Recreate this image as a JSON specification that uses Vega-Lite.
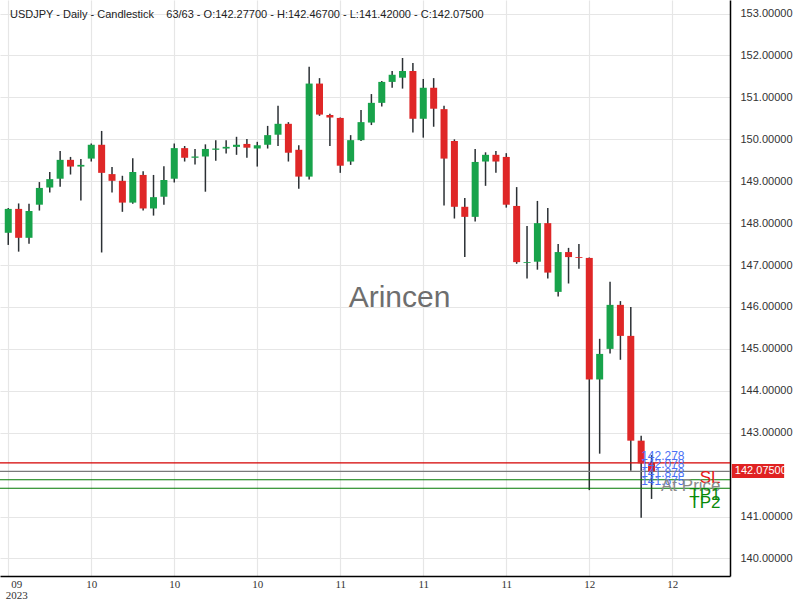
{
  "$schema": "https://vega.github.io/schema/vega-lite/v6.json",
  "width": 730,
  "height": 576,
  "autosize": {"type": "none"},
  "padding": {"left": 0, "top": 0, "right": 70, "bottom": 24},
  "background": "white",
  "config": {"view": {"stroke": null}, "font": "Liberation Sans"},
  "title": {
    "text": "USDJPY - Daily - Candlestick\u00a0\u00a0\u00a0 63/63 - O:142.27700 - H:142.46700 - L:141.42000 - C:142.07500",
    "anchor": "start",
    "frame": "group",
    "orient": "top",
    "baseline": "middle",
    "offset": -26,
    "dx": 10,
    "fontSize": 11,
    "fontWeight": "normal",
    "color": "#222222",
    "font": "Liberation Sans"
  },
  "data": {
    "values": [
      {"i": 0, "o": 147.77, "h": 148.36, "l": 147.48, "c": 148.34},
      {"i": 1, "o": 148.34, "h": 148.47, "l": 147.32, "c": 147.65},
      {"i": 2, "o": 147.65, "h": 148.46, "l": 147.51, "c": 148.29},
      {"i": 3, "o": 148.44, "h": 148.98, "l": 148.30, "c": 148.84},
      {"i": 4, "o": 148.85, "h": 149.22, "l": 148.73, "c": 149.05},
      {"i": 5, "o": 149.06, "h": 149.72, "l": 148.87, "c": 149.51},
      {"i": 6, "o": 149.51, "h": 149.58, "l": 149.16, "c": 149.35},
      {"i": 7, "o": 149.35, "h": 149.53, "l": 148.54, "c": 149.39},
      {"i": 8, "o": 149.54, "h": 149.90, "l": 149.47, "c": 149.87},
      {"i": 9, "o": 149.87, "h": 150.20, "l": 147.30, "c": 149.20},
      {"i": 10, "o": 149.17, "h": 149.34, "l": 148.73, "c": 149.01},
      {"i": 11, "o": 149.01, "h": 149.13, "l": 148.27, "c": 148.49},
      {"i": 12, "o": 148.49, "h": 149.55, "l": 148.46, "c": 149.22},
      {"i": 13, "o": 149.15, "h": 149.24, "l": 148.30, "c": 148.35},
      {"i": 14, "o": 148.35, "h": 149.15, "l": 148.18, "c": 148.62},
      {"i": 15, "o": 148.63, "h": 149.36, "l": 148.44, "c": 149.03},
      {"i": 16, "o": 149.06, "h": 149.90, "l": 148.97, "c": 149.79},
      {"i": 17, "o": 149.79, "h": 149.84, "l": 149.47, "c": 149.56},
      {"i": 18, "o": 149.56, "h": 149.77, "l": 149.40, "c": 149.59},
      {"i": 19, "o": 149.59, "h": 149.88, "l": 148.75, "c": 149.77},
      {"i": 20, "o": 149.75, "h": 149.98, "l": 149.49, "c": 149.78},
      {"i": 21, "o": 149.78, "h": 149.98, "l": 149.66, "c": 149.82},
      {"i": 22, "o": 149.82, "h": 150.06, "l": 149.63, "c": 149.87},
      {"i": 23, "o": 149.89, "h": 150.01, "l": 149.56, "c": 149.80},
      {"i": 24, "o": 149.78, "h": 149.94, "l": 149.35, "c": 149.86},
      {"i": 25, "o": 149.87, "h": 150.32, "l": 149.78, "c": 150.10},
      {"i": 26, "o": 150.11, "h": 150.80, "l": 149.84, "c": 150.37},
      {"i": 27, "o": 150.37, "h": 150.41, "l": 149.47, "c": 149.68},
      {"i": 28, "o": 149.75, "h": 149.86, "l": 148.82, "c": 149.11},
      {"i": 29, "o": 149.11, "h": 151.73, "l": 149.04, "c": 151.33},
      {"i": 30, "o": 151.33, "h": 151.46, "l": 150.56, "c": 150.59},
      {"i": 31, "o": 150.58, "h": 150.61, "l": 149.84, "c": 150.52},
      {"i": 32, "o": 150.51, "h": 150.52, "l": 149.20, "c": 149.37},
      {"i": 33, "o": 149.47, "h": 150.10, "l": 149.39, "c": 149.98},
      {"i": 34, "o": 149.98, "h": 150.70, "l": 149.96, "c": 150.41},
      {"i": 35, "o": 150.40, "h": 151.08, "l": 150.34, "c": 150.87},
      {"i": 36, "o": 150.87, "h": 151.39, "l": 150.78, "c": 151.37},
      {"i": 37, "o": 151.37, "h": 151.63, "l": 151.23, "c": 151.54},
      {"i": 38, "o": 151.47, "h": 151.94, "l": 151.21, "c": 151.63},
      {"i": 39, "o": 151.63, "h": 151.82, "l": 150.16, "c": 150.49},
      {"i": 40, "o": 150.49, "h": 151.44, "l": 150.04, "c": 151.23},
      {"i": 41, "o": 151.23, "h": 151.46, "l": 150.30, "c": 150.73},
      {"i": 42, "o": 150.72, "h": 150.80, "l": 148.42, "c": 149.54},
      {"i": 43, "o": 149.96, "h": 150.00, "l": 148.11, "c": 148.39},
      {"i": 44, "o": 148.39, "h": 148.60, "l": 147.19, "c": 148.15},
      {"i": 45, "o": 148.15, "h": 149.77, "l": 148.04, "c": 149.46},
      {"i": 46, "o": 149.47, "h": 149.69, "l": 148.89, "c": 149.63},
      {"i": 47, "o": 149.63, "h": 149.72, "l": 149.20, "c": 149.47},
      {"i": 48, "o": 149.58, "h": 149.67, "l": 148.37, "c": 148.44},
      {"i": 49, "o": 148.41, "h": 148.86, "l": 147.03, "c": 147.07},
      {"i": 50, "o": 147.05, "h": 147.93, "l": 146.68, "c": 147.07},
      {"i": 51, "o": 147.08, "h": 148.53, "l": 146.89, "c": 148.00},
      {"i": 52, "o": 148.00, "h": 148.36, "l": 146.68, "c": 146.82},
      {"i": 53, "o": 146.36, "h": 147.50, "l": 146.25, "c": 147.31},
      {"i": 54, "o": 147.31, "h": 147.41, "l": 146.56, "c": 147.19},
      {"i": 55, "o": 147.19, "h": 147.50, "l": 146.91, "c": 147.17},
      {"i": 56, "o": 147.17, "h": 147.18, "l": 141.63, "c": 144.27},
      {"i": 57, "o": 144.27, "h": 145.24, "l": 142.50, "c": 144.88},
      {"i": 58, "o": 145.00, "h": 146.60, "l": 144.89, "c": 146.05},
      {"i": 59, "o": 146.05, "h": 146.14, "l": 144.74, "c": 145.31},
      {"i": 60, "o": 145.31, "h": 146.00, "l": 142.09, "c": 142.81},
      {"i": 61, "o": 142.81, "h": 142.93, "l": 140.97, "c": 142.27},
      {"i": 62, "o": 142.277, "h": 142.467, "l": 141.42, "c": 142.075}
    ]
  },
  "layer": [
    {
      "mark": {"type": "rule", "color": "#2b3034", "strokeWidth": 1.5},
      "encoding": {
        "x": {
          "field": "i", "type": "quantitative", "title": null,
          "scale": {"domain": [-0.314, 69.08], "nice": false, "zero": false},
          "axis": {
            "orient": "bottom",
            "values": [0, 8, 16, 24, 32, 40, 48, 56, 64],
            "labelExpr": "datum.value == 0 ? ['09', '2023'] : datum.value < 32 ? '10' : datum.value < 56 ? '11' : '12'",
            "labelOffset": {"condition": {"test": "datum.value == 0", "value": 8}, "value": 0},
            "ticks": false,
            "domainColor": "#000000",
            "domainWidth": 1.5,
            "grid": true,
            "gridColor": "#e6e6e6",
            "gridWidth": 1.2,
            "labelFont": "Liberation Sans Narrow",
            "labelFontSize": 11,
            "labelColor": "#333333",
            "labelPadding": 2,
            "labelLineHeight": 11,
            "labelFlush": false,
            "labelOverlap": false
          }
        },
        "y": {
          "field": "l", "type": "quantitative", "title": null,
          "scale": {"domain": [139.581, 153.324], "nice": false, "zero": false},
          "axis": {
            "orient": "right",
            "values": [140, 141, 143, 144, 145, 146, 147, 148, 149, 150, 151, 152, 153],
            "format": ".5f",
            "ticks": false,
            "domainColor": "#000000",
            "domainWidth": 1.5,
            "grid": true,
            "gridColor": "#e6e6e6",
            "gridWidth": 1.2,
            "labelFont": "Liberation Sans",
            "labelFontSize": 11,
            "labelColor": "#333333",
            "labelPadding": 10,
            "labelOverlap": false
          }
        },
        "y2": {"field": "h"}
      }
    },
    {
      "data": {"values": [{}]},
      "mark": {"type": "rule", "color": "#d40000", "strokeWidth": 1.2},
      "encoding": {"y": {"datum": 142.278, "type": "quantitative", "title": null}}
    },
    {
      "data": {"values": [{}]},
      "mark": {"type": "rule", "color": "#7a7a7a", "strokeWidth": 1.2},
      "encoding": {"y": {"datum": 142.075, "type": "quantitative", "title": null}}
    },
    {
      "data": {"values": [{}]},
      "mark": {"type": "rule", "color": "#007a00", "strokeWidth": 1.2},
      "encoding": {"y": {"datum": 141.878, "type": "quantitative", "title": null}}
    },
    {
      "data": {"values": [{}]},
      "mark": {"type": "rule", "color": "#007a00", "strokeWidth": 1.2},
      "encoding": {"y": {"datum": 141.675, "type": "quantitative", "title": null}}
    },
    {
      "mark": {"type": "bar", "width": 7, "cornerRadius": 0},
      "encoding": {
        "x": {"field": "i", "type": "quantitative", "title": null},
        "y": {"field": "o", "type": "quantitative", "title": null},
        "y2": {"field": "c"},
        "color": {"condition": {"test": "datum.c >= datum.o", "value": "#18a34b"}, "value": "#df2727"}
      }
    },
    {
      "data": {"values": [
        {"t": "142.278", "p": 142.278},
        {"t": "142.078", "p": 142.078},
        {"t": "141.878", "p": 141.878},
        {"t": "141.675", "p": 141.675}
      ]},
      "mark": {"type": "text", "align": "left", "baseline": "alphabetic", "dy": -3, "fontSize": 12, "color": "#4a70f5", "font": "Liberation Sans"},
      "encoding": {
        "x": {"datum": 61, "type": "quantitative", "title": null},
        "y": {"field": "p", "type": "quantitative", "title": null},
        "text": {"field": "t"}
      }
    },
    {
      "data": {"values": [
        {"t": "SL", "p": 142.278, "k": "sl"},
        {"t": "At Price", "p": 142.078, "k": "at"},
        {"t": "TP1", "p": 141.878, "k": "tp"},
        {"t": "TP2", "p": 141.675, "k": "tp"}
      ]},
      "mark": {"type": "text", "align": "right", "baseline": "alphabetic", "dy": 20, "fontSize": 17, "font": "Liberation Sans"},
      "encoding": {
        "x": {"datum": 68.65, "type": "quantitative", "title": null},
        "y": {"field": "p", "type": "quantitative", "title": null},
        "text": {"field": "t"},
        "color": {"field": "k", "type": "nominal", "legend": null,
          "scale": {"domain": ["sl", "at", "tp"], "range": ["#e81818", "#8a8a8a", "#0a8a0a"]}}
      }
    },
    {
      "data": {"values": [{}]},
      "mark": {"type": "text", "align": "center", "baseline": "middle", "fontSize": 30, "color": "#6e6e6e", "font": "Liberation Sans"},
      "encoding": {
        "x": {"datum": 37.71, "type": "quantitative", "title": null},
        "y": {"datum": 146.21, "type": "quantitative", "title": null},
        "text": {"value": "Arincen"}
      }
    },
    {
      "data": {"values": [{}]},
      "mark": {"type": "rect", "color": "#e02222", "clip": false},
      "encoding": {
        "x": {"datum": 69.74, "type": "quantitative", "title": null},
        "x2": {"datum": 74.78},
        "y": {"datum": 142.253, "type": "quantitative", "title": null},
        "y2": {"datum": 141.919}
      }
    },
    {
      "data": {"values": [{}]},
      "mark": {"type": "text", "align": "left", "baseline": "middle", "fontSize": 11, "color": "#ffffff", "font": "Liberation Sans", "clip": false},
      "encoding": {
        "x": {"datum": 70.03, "type": "quantitative", "title": null},
        "y": {"datum": 142.075, "type": "quantitative", "title": null},
        "text": {"value": "142.07500"}
      }
    }
  ]
}
